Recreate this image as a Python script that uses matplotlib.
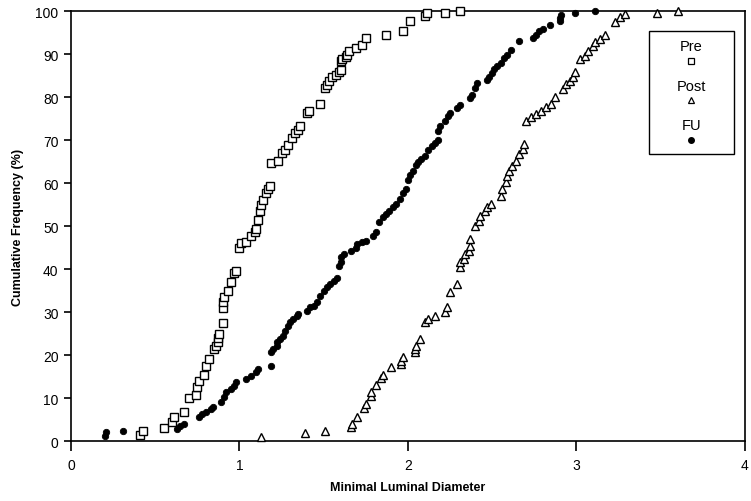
import matplotlib
matplotlib.use("Agg")
import matplotlib.pyplot as plt
from matplotlib.patches import Rectangle

plt.rcParams['font.family'] = ['Liberation Sans', 'DejaVu Sans']

# Cumulative frequency (%) against minimal luminal diameter (mm)
pre_mld = [0.41, 0.43, 0.55, 0.60, 0.61, 0.67, 0.70, 0.74, 0.75, 0.76, 0.79, 0.80,
           0.82, 0.85, 0.86, 0.87, 0.87, 0.88, 0.90, 0.90, 0.90, 0.91, 0.93, 0.95,
           0.97, 0.98, 1.00, 1.01, 1.04, 1.07, 1.09, 1.10, 1.11, 1.12, 1.13, 1.14,
           1.16, 1.17, 1.18, 1.19, 1.23, 1.25, 1.27, 1.29, 1.31, 1.33, 1.35, 1.36,
           1.40, 1.41, 1.48, 1.51, 1.52, 1.53, 1.55, 1.57, 1.59, 1.60, 1.60, 1.61,
           1.63, 1.64, 1.65, 1.69, 1.73, 1.75, 1.87, 1.97, 2.01, 2.10, 2.11, 2.22,
           2.31]
pre_cum = [1.5, 2.3, 3.0, 4.4, 5.6, 6.8, 10.0, 10.7, 12.6, 14.0, 15.4, 17.5,
           19.0, 21.4, 22.0, 23.0, 24.0, 25.0, 27.5, 31.0, 32.4, 33.6, 35.0, 37.0,
           39.0, 39.5, 44.8, 46.0, 46.4, 47.6, 48.7, 49.4, 51.3, 53.4, 54.8, 56.0,
           57.6, 58.6, 59.3, 64.6, 65.2, 67.0, 67.6, 68.8, 70.4, 71.6, 72.3, 73.2,
           76.2, 76.7, 78.3, 82.0, 82.8, 83.7, 84.6, 85.1, 85.8, 86.2, 88.3, 88.8,
           89.3, 89.7, 90.7, 91.4, 92.1, 93.7, 94.4, 95.3, 97.7, 98.8, 99.5, 99.5,
           100.0]

post_mld = [1.13, 1.39, 1.51, 1.66, 1.67, 1.70, 1.74, 1.75, 1.78, 1.78, 1.81, 1.84,
            1.85, 1.90, 1.96, 1.96, 1.97, 2.04, 2.04, 2.05, 2.07, 2.10, 2.12, 2.16,
            2.22, 2.23, 2.25, 2.29, 2.31, 2.31, 2.33, 2.34, 2.36, 2.37, 2.37, 2.40,
            2.42, 2.43, 2.46, 2.47, 2.49, 2.55, 2.56, 2.58, 2.59, 2.60, 2.62, 2.64,
            2.66, 2.68, 2.69, 2.70, 2.73, 2.76, 2.79, 2.82, 2.85, 2.87, 2.92, 2.94,
            2.96, 2.98, 2.99, 3.02, 3.05, 3.07, 3.10, 3.11, 3.14, 3.17, 3.23, 3.26,
            3.29, 3.48, 3.60]
post_cum = [1.0, 1.9, 2.3, 3.3, 4.0, 5.6, 7.7, 8.6, 10.5, 11.4, 13.0, 14.7,
            15.3, 17.2, 17.9, 18.6, 19.5, 20.7, 21.4, 22.1, 23.7, 27.7, 28.4, 29.1,
            30.0, 31.2, 34.7, 36.5, 40.5, 41.6, 42.3, 43.5, 44.2, 45.3, 47.0, 50.0,
            51.2, 52.3, 53.5, 54.4, 55.1, 57.0, 58.6, 60.2, 61.6, 62.8, 64.0, 65.1,
            66.7, 67.9, 69.1, 74.4, 75.3, 76.0, 76.7, 77.7, 78.4, 80.0, 81.9, 83.0,
            83.7, 84.7, 85.8, 88.8, 89.5, 90.7, 91.9, 92.8, 93.5, 94.4, 97.4, 98.6,
            99.3, 99.5, 100.0]

fu_mld = [0.20, 0.21, 0.31, 0.63, 0.65, 0.67, 0.76, 0.78, 0.80, 0.83, 0.84, 0.89,
          0.91, 0.92, 0.95, 0.97, 0.98, 1.04, 1.07, 1.10, 1.11, 1.19, 1.19, 1.20,
          1.22, 1.22, 1.24, 1.26, 1.27, 1.29, 1.30, 1.32, 1.34, 1.35, 1.40, 1.42,
          1.44, 1.46, 1.48, 1.50, 1.52, 1.54, 1.56, 1.58, 1.59, 1.60, 1.60, 1.62,
          1.66, 1.69, 1.70, 1.73, 1.75, 1.79, 1.81, 1.83, 1.85, 1.87, 1.89, 1.91,
          1.93, 1.95, 1.97, 1.99, 2.00, 2.01, 2.03, 2.05, 2.06, 2.08, 2.10, 2.12,
          2.14, 2.16, 2.18, 2.18, 2.19, 2.22, 2.24, 2.25, 2.29, 2.31, 2.37, 2.38,
          2.40, 2.41, 2.47, 2.48, 2.50, 2.51, 2.53, 2.55, 2.57, 2.59, 2.61, 2.66,
          2.74, 2.76, 2.78, 2.80, 2.84, 2.90, 2.90, 2.91, 2.99, 3.11]
fu_cum = [1.2, 2.1, 2.3, 2.8, 3.5, 4.0, 5.6, 6.3, 6.8, 7.5, 7.9, 9.1,
          10.3, 11.4, 12.0, 12.8, 13.8, 14.5, 15.2, 16.1, 16.8, 17.5, 20.7, 21.4,
          22.1, 23.1, 23.8, 24.5, 25.6, 26.8, 27.7, 28.4, 29.1, 29.6, 30.3, 31.2,
          31.5, 32.4, 33.8, 35.0, 35.9, 36.6, 37.3, 38.0, 40.6, 41.7, 42.9, 43.6,
          44.3, 44.8, 45.9, 46.4, 46.6, 47.6, 48.7, 51.0, 52.2, 52.9, 53.6, 54.5,
          55.2, 56.4, 57.6, 58.7, 60.6, 61.8, 62.9, 64.1, 65.0, 65.7, 66.4, 67.6,
          68.5, 69.2, 69.9, 72.0, 73.2, 74.4, 75.5, 76.2, 77.4, 78.1, 79.7, 80.4,
          82.0, 83.2, 83.9, 84.6, 85.5, 86.5, 87.2, 87.9, 89.0, 89.7, 90.9, 93.0,
          93.7, 94.4, 95.3, 95.8, 96.7, 97.7, 98.4, 99.1, 99.6, 100.0]

group_names = ["Pre", "Post", "FU"]
x_ticks = [0, 1, 2, 3, 4]
y_ticks = [0, 10, 20, 30, 40, 50, 60, 70, 80, 90, 100]

fig = plt.figure(figsize=(7.51, 5.02), dpi=100)
ax = fig.add_axes([0.0945, 0.1195, 0.8975, 0.8565])

ax.plot(pre_mld, pre_cum, linestyle='none', marker='s', markersize=5.4,
        markerfacecolor='white', markeredgecolor='black', markeredgewidth=1.0,
        clip_on=False, zorder=3)
ax.plot(post_mld, post_cum, linestyle='none', marker='^', markersize=6.4,
        markerfacecolor='white', markeredgecolor='black', markeredgewidth=1.0,
        clip_on=False, zorder=3)
ax.plot(fu_mld, fu_cum, linestyle='none', marker='o', markersize=4.6,
        markerfacecolor='black', markeredgecolor='black', markeredgewidth=0.6,
        clip_on=False, zorder=3)

ax.set_xlim(0, 4)
ax.set_ylim(0, 100)
ax.set_xticks(x_ticks)
ax.set_yticks(y_ticks)
ax.tick_params(axis='x', direction='out', length=7, width=1.2, labelsize=10, pad=5)
ax.tick_params(axis='y', direction='out', length=5, width=1.2, labelsize=10, pad=4)
for spine in ax.spines.values():
    spine.set_linewidth(1.2)

ax.set_xlabel("Minimal Luminal Diameter", fontsize=9, fontweight='bold', labelpad=7)
ax.set_ylabel("Cumulative Frequency (%)", fontsize=9, fontweight='bold', labelpad=8)

# Legend box: label above each marker
ax.add_patch(Rectangle((0.857, 0.667), 0.126, 0.286, transform=ax.transAxes,
                       facecolor='white', edgecolor='black', linewidth=1.0,
                       zorder=5, clip_on=False))
legend_styles = [
    dict(marker='s', markersize=4.2, markerfacecolor='white', markeredgecolor='black',
         markeredgewidth=0.9),
    dict(marker='^', markersize=4.6, markerfacecolor='white', markeredgecolor='black',
         markeredgewidth=0.9),
    dict(marker='o', markersize=4.0, markerfacecolor='black', markeredgecolor='black'),
]
label_y = [0.919, 0.826, 0.735]
marker_y = [0.884, 0.793, 0.700]
for name, style, ty, my in zip(group_names, legend_styles, label_y, marker_y):
    ax.text(0.92, ty, name, transform=ax.transAxes, ha='center', va='center',
            fontsize=10.5, zorder=6)
    ax.plot([0.92], [my], transform=ax.transAxes, linestyle='none', zorder=6,
            clip_on=False, **style)

fig.savefig("out.png", dpi=100, facecolor='white')
